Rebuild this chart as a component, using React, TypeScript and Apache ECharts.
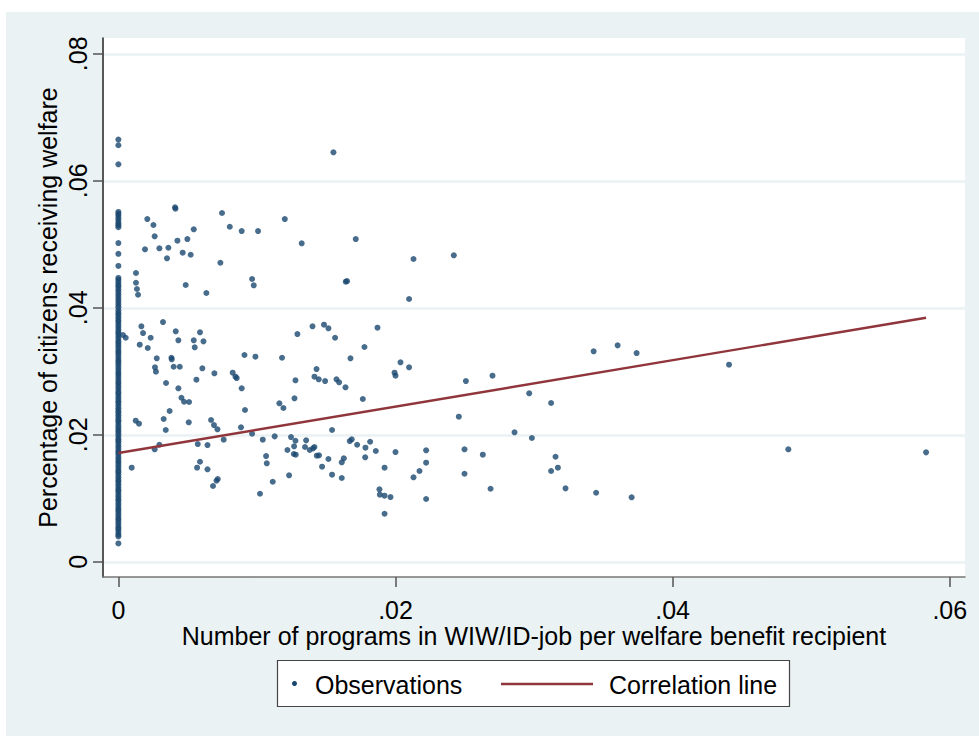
import React, { useEffect, useRef } from 'react';
import * as echarts from 'echarts';

const xTickValues = [0, 0.02, 0.04, 0.06];
const xTickLabels = ['0', '.02', '.04', '.06'];
const yTickValues = [0, 0.02, 0.04, 0.06, 0.08];
const yTickLabels = ['0', '.02', '.04', '.06', '.08'];

const xTitle = 'Number of programs in WIW/ID-job per welfare benefit recipient';
const yTitle = 'Percentage of citizens receiving welfare';
const legendNames = ['Observations', 'Correlation line'];

// Municipalities with zero programs (x = 0)
const zeroColumnY = [
  0.0665, 0.0656, 0.0626,
  0.0551, 0.0548, 0.0545, 0.0541, 0.0537, 0.0533, 0.053, 0.0527,
  0.0502, 0.0485, 0.0466,
  0.0447, 0.0444, 0.044, 0.0436, 0.0433, 0.0429, 0.0425, 0.0421, 0.0417, 0.0413, 0.0409, 0.0405, 0.0401,
  0.0396, 0.0392, 0.0389, 0.0385, 0.0381, 0.0378, 0.0374, 0.037, 0.0366, 0.0362, 0.0359, 0.0355, 0.0351,
  0.0347, 0.0344, 0.034, 0.0336, 0.0332, 0.0329, 0.0325, 0.0321, 0.0317, 0.0314, 0.031, 0.0306, 0.0302,
  0.0298, 0.0295, 0.0291, 0.0287, 0.0283, 0.028, 0.0276, 0.0272, 0.0268, 0.0265, 0.0261, 0.0257, 0.0253,
  0.025, 0.0246, 0.0242, 0.0238, 0.0235, 0.0231, 0.0227, 0.0223, 0.022, 0.0216, 0.0212, 0.0208, 0.0205,
  0.0201, 0.0197, 0.0193, 0.019, 0.0186, 0.0182, 0.0178, 0.0174, 0.0171, 0.0167, 0.0163, 0.0159, 0.0156,
  0.0152, 0.0148, 0.0144, 0.0141, 0.0137, 0.0133, 0.0129, 0.0126, 0.0122, 0.0118, 0.0114, 0.0111, 0.0107,
  0.0103, 0.0099, 0.0096, 0.0092, 0.0088, 0.0084, 0.0081, 0.0077, 0.0073, 0.0069, 0.0066, 0.0062, 0.0058,
  0.0054, 0.0051, 0.0047, 0.0043, 0.004,
  0.0029,
];

// Municipalities with programs: [programs per recipient, share receiving welfare]
const observations: [number, number][] = [
  [0.01552, 0.06449], [0.00409, 0.05583], [0.00412, 0.0556], [0.00209, 0.05398], [0.00253, 0.05304],
  [0.00262, 0.05126], [0.00544, 0.05236], [0.00498, 0.05083], [0.00426, 0.05057], [0.00192, 0.04921],
  [0.00296, 0.04937], [0.00361, 0.04946], [0.00351, 0.0478], [0.00464, 0.04868], [0.00522, 0.04836],
  [0.00748, 0.05493], [0.00804, 0.05277], [0.0089, 0.05209], [0.01008, 0.05209], [0.01201, 0.05398],
  [0.01323, 0.05016], [0.01713, 0.05083], [0.00736, 0.0471], [0.00127, 0.04548], [0.00127, 0.04395],
  [0.00134, 0.04296], [0.00142, 0.04206], [0.00486, 0.04359], [0.00635, 0.04233], [0.00965, 0.04454],
  [0.00977, 0.04354], [0.01641, 0.04411], [0.0165, 0.0442], [0.02098, 0.04139], [0.0213, 0.04769],
  [0.02421, 0.04827], [0.00166, 0.03709], [0.00178, 0.03603], [0.00233, 0.03529], [0.00322, 0.03776],
  [0.00414, 0.0363], [0.00589, 0.03614], [0.01292, 0.03587], [0.01401, 0.03709], [0.01484, 0.03734],
  [0.01516, 0.03677], [0.01564, 0.03529], [0.0187, 0.03687], [0.00033, 0.03572], [0.00053, 0.03529],
  [0.00433, 0.03488], [0.00544, 0.03488], [0.00614, 0.03472], [0.00154, 0.03419], [0.00212, 0.03367],
  [0.00551, 0.03378], [0.01776, 0.03383], [0.00277, 0.03205], [0.00383, 0.03214], [0.00385, 0.03189],
  [0.0091, 0.03257], [0.00989, 0.0323], [0.01181, 0.03214], [0.01675, 0.03205], [0.02036, 0.03142],
  [0.02098, 0.03063], [0.00264, 0.03063], [0.00271, 0.02994], [0.00399, 0.03072], [0.00443, 0.03072],
  [0.00606, 0.03047], [0.00693, 0.02969], [0.00825, 0.02978], [0.00845, 0.02915], [0.00854, 0.02894],
  [0.0143, 0.03036], [0.01415, 0.02915], [0.01446, 0.02874], [0.01492, 0.02847], [0.01278, 0.02858],
  [0.01574, 0.02874], [0.01593, 0.02827], [0.01639, 0.02748], [0.01993, 0.02978], [0.02, 0.02931],
  [0.00344, 0.02816], [0.00563, 0.02868], [0.00433, 0.02732], [0.0089, 0.02732], [0.00455, 0.02584],
  [0.00474, 0.02521], [0.0051, 0.02517], [0.01271, 0.02575], [0.01162, 0.02496], [0.01191, 0.02422],
  [0.01764, 0.02564], [0.0037, 0.02375], [0.00914, 0.02391], [0.00125, 0.02222], [0.00149, 0.02175],
  [0.00327, 0.02249], [0.00508, 0.02197], [0.00669, 0.02233], [0.0069, 0.02154], [0.00715, 0.02087],
  [0.00342, 0.02076], [0.00885, 0.02118], [0.00965, 0.02017], [0.01542, 0.02076], [0.00296, 0.01844],
  [0.00262, 0.01772], [0.00573, 0.01855], [0.00643, 0.01839], [0.0076, 0.01923], [0.01042, 0.01923],
  [0.01128, 0.01976], [0.01246, 0.01965], [0.01278, 0.01907], [0.01355, 0.01913], [0.01268, 0.01819],
  [0.0122, 0.01761], [0.01266, 0.01698], [0.0128, 0.01687], [0.01347, 0.01808], [0.01381, 0.01761],
  [0.01405, 0.01787], [0.01415, 0.01808], [0.01432, 0.01671], [0.01448, 0.01677], [0.01516, 0.01619],
  [0.0167, 0.01902], [0.01684, 0.01929], [0.01723, 0.01844], [0.01783, 0.01797], [0.01817, 0.01891],
  [0.01858, 0.01745], [0.02, 0.01729], [0.01781, 0.01646], [0.01627, 0.0163], [0.01612, 0.01567],
  [0.00096, 0.01482], [0.00589, 0.01576], [0.00568, 0.01482], [0.00643, 0.01457], [0.01066, 0.01666],
  [0.01071, 0.01551], [0.0147, 0.01498], [0.01542, 0.01372], [0.01612, 0.0132], [0.01921, 0.01482],
  [0.01232, 0.01362], [0.00717, 0.01304], [0.00708, 0.01277], [0.00683, 0.01194], [0.01114, 0.01261],
  [0.01022, 0.01072], [0.01884, 0.01142], [0.01887, 0.01057], [0.01921, 0.01041], [0.01964, 0.0102],
  [0.01921, 0.00757], [0.02508, 0.02847], [0.027, 0.02931], [0.0343, 0.03315], [0.03603, 0.03409],
  [0.0374, 0.03288], [0.02965, 0.02654], [0.03123, 0.02501], [0.02457, 0.02285], [0.02859, 0.02039],
  [0.02984, 0.0195], [0.02221, 0.01756], [0.02498, 0.01772], [0.0263, 0.01687], [0.03155, 0.01655],
  [0.02221, 0.01561], [0.02173, 0.0143], [0.0213, 0.01331], [0.02498, 0.01387], [0.03123, 0.0143],
  [0.03172, 0.01482], [0.02221, 0.00989], [0.02686, 0.01151], [0.03227, 0.01157], [0.03448, 0.01088],
  [0.03704, 0.01016], [0.04407, 0.03104], [0.04835, 0.01772], [0.05829, 0.01724],
];

// Fitted correlation line endpoints
const fitLineX = [0, 0.05829];
const fitLineY = [0.01713, 0.03844];

const NAVY = '#1a476f';
const MAROON = '#90353b';
const BG = '#eaf2f3';
const FONT = 'Liberation Sans, Arial, Helvetica, sans-serif';
const FS = 25;

function tickLabel(values: number[], labels: string[]) {
  return (v: number) => {
    for (let i = 0; i < values.length; i++) {
      if (Math.abs(values[i] - v) < 1e-9) return labels[i];
    }
    return '';
  };
}

export default function App() {
  const ref = useRef<HTMLDivElement>(null);

  useEffect(() => {
    if (!ref.current) return;
    const chart = echarts.init(ref.current, undefined, { renderer: 'svg' });

    const scatterData: [number, number][] = [
      ...zeroColumnY.map((y) => [0, y] as [number, number]),
      ...observations,
    ];
    const lineData = fitLineX.map((x, i) => [x, fitLineY[i]]);

    chart.setOption({
      animation: false,
      backgroundColor: '#ffffff',
      textStyle: { fontFamily: FONT },
      grid: {
        left: 103,
        top: 38,
        right: 14,
        bottom: 159,
        show: true,
        backgroundColor: '#ffffff',
        borderWidth: 0,
      },
      xAxis: {
        type: 'value',
        min: -0.00111,
        max: 0.0611,
        name: xTitle,
        nameLocation: 'middle',
        nameGap: 46,
        nameMoveOverlap: false,
        nameTextStyle: { fontSize: FS, color: '#000', fontFamily: FONT },
        axisLine: { show: true, onZero: false, lineStyle: { color: '#777777', width: 1.5 } },
        axisTick: {
          show: true,
          length: 10,
          customValues: xTickValues,
          lineStyle: { color: '#555555', width: 1.5 },
        },
        axisLabel: {
          customValues: xTickValues,
          formatter: tickLabel(xTickValues, xTickLabels),
          fontSize: FS,
          color: '#000',
          margin: 20,
          fontFamily: FONT,
        },
        splitLine: { show: false },
      },
      yAxis: {
        type: 'value',
        min: -0.00239,
        max: 0.08249,
        name: yTitle,
        nameLocation: 'middle',
        nameGap: 43,
        nameMoveOverlap: false,
        nameTextStyle: { fontSize: FS, color: '#000', fontFamily: FONT },
        axisLine: { show: true, onZero: false, lineStyle: { color: '#222222', width: 1.5 } },
        axisTick: {
          show: true,
          length: 10,
          customValues: yTickValues,
          lineStyle: { color: '#555555', width: 1.5 },
        },
        axisLabel: {
          customValues: yTickValues,
          formatter: tickLabel(yTickValues, yTickLabels),
          rotate: 90,
          fontSize: FS,
          color: '#000',
          margin: 13,
          fontFamily: FONT,
        },
        splitLine: { show: true, lineStyle: { color: BG, width: 2.5 } },
      },
      series: [
        {
          name: legendNames[0],
          type: 'scatter',
          data: scatterData,
          symbol: 'circle',
          symbolSize: 6,
          itemStyle: { color: NAVY },
          z: 2,
        },
        {
          name: legendNames[1],
          type: 'line',
          data: lineData,
          showSymbol: false,
          symbol: 'none',
          lineStyle: { color: MAROON, width: 2.4 },
          z: 3,
        },
      ],
      graphic: [
        {
          type: 'rect',
          z: -1,
          silent: true,
          shape: { x: 6, y: 12, width: 973, height: 724 },
          style: { fill: BG },
        },
        {
          type: 'group',
          z: 10,
          children: [
            {
              type: 'rect',
              shape: { x: 277.5, y: 660.5, width: 512, height: 46 },
              style: { fill: '#ffffff', stroke: '#444444', lineWidth: 1.2 },
            },
            {
              type: 'circle',
              shape: { cx: 294.5, cy: 683.5, r: 2.5 },
              style: { fill: NAVY },
            },
            {
              type: 'text',
              x: 315,
              y: 685,
              style: {
                text: legendNames[0],
                fontSize: FS,
                fontFamily: FONT,
                fill: '#000',
                verticalAlign: 'middle',
                align: 'left',
              },
            },
            {
              type: 'line',
              shape: { x1: 501, y1: 684, x2: 593, y2: 684 },
              style: { stroke: MAROON, lineWidth: 2.4 },
            },
            {
              type: 'text',
              x: 609,
              y: 685,
              style: {
                text: legendNames[1],
                fontSize: FS,
                fontFamily: FONT,
                fill: '#000',
                verticalAlign: 'middle',
                align: 'left',
              },
            },
          ],
        },
      ],
    });

    return () => {
      chart.dispose();
    };
  }, []);

  return (
    <div
      ref={ref}
      style={{ position: 'fixed', left: 0, top: 0, width: 979, height: 736 }}
    />
  );
}
